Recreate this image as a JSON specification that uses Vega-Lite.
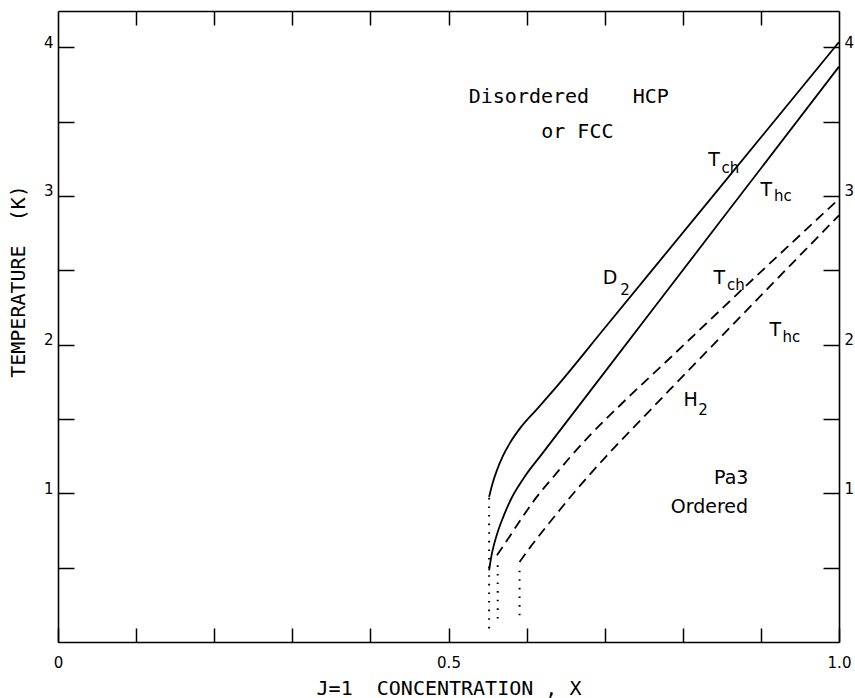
{
  "$schema": "https://vega.github.io/schema/vega-lite/v6.json",
  "width": 781,
  "height": 631,
  "autosize": "none",
  "padding": {"left": 58, "top": 11, "right": 16, "bottom": 56},
  "background": "white",
  "config": {
    "view": {"stroke": null},
    "font": "DejaVu Sans",
    "axis": {
      "domainColor": "black", "domainWidth": 1.6,
      "tickColor": "black", "tickWidth": 1.5,
      "labelColor": "black", "titleColor": "black",
      "labelFont": "DejaVu Sans", "titleFont": "DejaVu Sans Mono",
      "labelFontSize": 15, "titleFontSize": 20, "titleFontWeight": "normal",
      "grid": false
    }
  },
  "datasets": {
    "curves": [
      {"series": "D2_ch", "x": 0.552, "y": 0.976},
      {"series": "D2_ch", "x": 0.556, "y": 1.06},
      {"series": "D2_ch", "x": 0.562, "y": 1.155},
      {"series": "D2_ch", "x": 0.570, "y": 1.255},
      {"series": "D2_ch", "x": 0.580, "y": 1.35},
      {"series": "D2_ch", "x": 0.592, "y": 1.44},
      {"series": "D2_ch", "x": 0.613, "y": 1.565},
      {"series": "D2_ch", "x": 0.639, "y": 1.721},
      {"series": "D2_ch", "x": 0.700, "y": 2.112},
      {"series": "D2_ch", "x": 0.850, "y": 3.073},
      {"series": "D2_ch", "x": 1.0, "y": 4.035},
      {"series": "D2_hc", "x": 0.552, "y": 0.482},
      {"series": "D2_hc", "x": 0.555, "y": 0.58},
      {"series": "D2_hc", "x": 0.558, "y": 0.65},
      {"series": "D2_hc", "x": 0.563, "y": 0.74},
      {"series": "D2_hc", "x": 0.570, "y": 0.84},
      {"series": "D2_hc", "x": 0.580, "y": 0.96},
      {"series": "D2_hc", "x": 0.596, "y": 1.10},
      {"series": "D2_hc", "x": 0.620, "y": 1.267},
      {"series": "D2_hc", "x": 0.700, "y": 1.815},
      {"series": "D2_hc", "x": 0.850, "y": 2.843},
      {"series": "D2_hc", "x": 1.0, "y": 3.87},
      {"series": "H2_ch", "x": 0.562, "y": 0.584},
      {"series": "H2_ch", "x": 0.575, "y": 0.684},
      {"series": "H2_ch", "x": 0.592, "y": 0.819},
      {"series": "H2_ch", "x": 0.613, "y": 0.976},
      {"series": "H2_ch", "x": 0.635, "y": 1.115},
      {"series": "H2_ch", "x": 0.656, "y": 1.245},
      {"series": "H2_ch", "x": 0.681, "y": 1.39},
      {"series": "H2_ch", "x": 0.720, "y": 1.594},
      {"series": "H2_ch", "x": 0.784, "y": 1.912},
      {"series": "H2_ch", "x": 0.902, "y": 2.50},
      {"series": "H2_ch", "x": 1.0, "y": 2.98},
      {"series": "H2_hc", "x": 0.591, "y": 0.538},
      {"series": "H2_hc", "x": 0.605, "y": 0.64},
      {"series": "H2_hc", "x": 0.622, "y": 0.755},
      {"series": "H2_hc", "x": 0.639, "y": 0.866},
      {"series": "H2_hc", "x": 0.656, "y": 0.975},
      {"series": "H2_hc", "x": 0.677, "y": 1.103},
      {"series": "H2_hc", "x": 0.699, "y": 1.232},
      {"series": "H2_hc", "x": 0.720, "y": 1.35},
      {"series": "H2_hc", "x": 0.741, "y": 1.465},
      {"series": "H2_hc", "x": 0.784, "y": 1.70},
      {"series": "H2_hc", "x": 1.0, "y": 2.87}
    ],
    "dots": [
      {"series": "A", "x": 0.552, "y": 0.97},
      {"series": "A", "x": 0.552, "y": 0.06},
      {"series": "B", "x": 0.563, "y": 0.516},
      {"series": "B", "x": 0.563, "y": 0.146},
      {"series": "C", "x": 0.591, "y": 0.48},
      {"series": "C", "x": 0.591, "y": 0.17}
    ],
    "wideText": [
      {"x": 0.603, "y": 3.666, "text": "Disordered"},
      {"x": 0.759, "y": 3.666, "text": "HCP"},
      {"x": 0.665, "y": 3.432, "text": "or FCC"}
    ],
    "mainText": [
      {"x": 0.840, "y": 3.242, "text": "T"},
      {"x": 0.907, "y": 3.039, "text": "T"},
      {"x": 0.707, "y": 2.448, "text": "D"},
      {"x": 0.8467, "y": 2.448, "text": "T"},
      {"x": 0.9185, "y": 2.097, "text": "T"},
      {"x": 0.81, "y": 1.625, "text": "H"},
      {"x": 0.862, "y": 1.10, "text": "Pa3"},
      {"x": 0.834, "y": 0.906, "text": "Ordered"}
    ],
    "subText": [
      {"x": 0.861, "y": 3.190, "text": "ch"},
      {"x": 0.928, "y": 3.000, "text": "hc"},
      {"x": 0.726, "y": 2.37, "text": "2"},
      {"x": 0.868, "y": 2.40, "text": "ch"},
      {"x": 0.939, "y": 2.05, "text": "hc"},
      {"x": 0.826, "y": 1.56, "text": "2"}
    ]
  },
  "layer": [
    {
      "data": {"name": "curves"},
      "transform": [{"filter": "datum.series == 'D2_ch' || datum.series == 'D2_hc'"}],
      "mark": {"type": "line", "color": "black", "strokeWidth": 1.8, "interpolate": "monotone"},
      "encoding": {
        "x": {"field": "x", "type": "quantitative",
          "scale": {"domain": [0, 1], "nice": false, "zero": false},
          "axis": {"orient": "bottom", "values": [0, 0.1, 0.2, 0.3, 0.4, 0.5, 0.6, 0.7, 0.8, 0.9, 1.0],
            "tickSize": -14, "labelPadding": 27, "labelFontSize": 15, "labelFlush": false,
            "labelExpr": "datum.value == 0 ? '0' : (datum.value == 0.5 ? '0.5' : (datum.value == 1 ? '1.0' : ''))",
            "title": "J=1\u00a0\u00a0CONCENTRATION , X", "titleFontSize": 20, "titleY": 46, "titleBaseline": "middle"}},
        "y": {"field": "y", "type": "quantitative",
          "scale": {"domain": [0, 4.244], "nice": false, "zero": false},
          "axis": {"orient": "left", "values": [0.5, 1, 1.5, 2, 2.5, 3, 3.5, 4],
            "tickSize": -16, "labelPadding": 21, "labelFontSize": 15, "labelBaseline": "middle", "labelOffset": -5,
            "labelExpr": "datum.value % 1 == 0 ? format(datum.value, 'd') : ''",
            "title": "TEMPERATURE\u00a0\u00a0(K)", "titleFontSize": 20, "titleAngle": -90, "titleX": -40, "titleY": 270,
            "titleAlign": "center", "titleBaseline": "middle"}},
        "detail": {"field": "series"}
      }
    },
    {
      "data": {"name": "curves"},
      "transform": [{"filter": "datum.series == 'H2_ch' || datum.series == 'H2_hc'"}],
      "mark": {"type": "line", "color": "black", "strokeWidth": 1.8, "strokeDash": [10, 6], "interpolate": "monotone"},
      "encoding": {
        "x": {"field": "x", "type": "quantitative",
          "axis": {"orient": "top", "values": [0.1, 0.2, 0.3, 0.4, 0.5, 0.6, 0.7, 0.8, 0.9],
            "tickSize": -14, "labels": false, "title": null}},
        "y": {"field": "y", "type": "quantitative",
          "axis": {"orient": "right", "values": [0.5, 1, 1.5, 2, 2.5, 3, 3.5, 4],
            "tickSize": -16, "labelPadding": 21, "labelFontSize": 15, "labelBaseline": "middle", "labelOffset": -5,
            "labelExpr": "datum.value % 1 == 0 ? format(datum.value, 'd') : ''",
            "title": null}},
        "detail": {"field": "series"}
      }
    },
    {
      "data": {"name": "dots"},
      "mark": {"type": "line", "color": "black", "strokeWidth": 2, "strokeDash": [1.6, 7]},
      "encoding": {
        "x": {"field": "x", "type": "quantitative", "axis": null},
        "y": {"field": "y", "type": "quantitative", "axis": null},
        "detail": {"field": "series"},
        "order": {"field": "y", "sort": "descending"}
      }
    },
    {
      "data": {"name": "wideText"},
      "mark": {"type": "text", "color": "black", "fontSize": 20, "font": "DejaVu Sans Mono", "align": "center", "baseline": "middle"},
      "encoding": {
        "x": {"field": "x", "type": "quantitative", "axis": null},
        "y": {"field": "y", "type": "quantitative", "axis": null},
        "text": {"field": "text"}
      }
    },
    {
      "data": {"name": "mainText"},
      "mark": {"type": "text", "color": "black", "fontSize": 19, "font": "DejaVu Sans", "align": "center", "baseline": "middle"},
      "encoding": {
        "x": {"field": "x", "type": "quantitative", "axis": null},
        "y": {"field": "y", "type": "quantitative", "axis": null},
        "text": {"field": "text"}
      }
    },
    {
      "data": {"name": "subText"},
      "mark": {"type": "text", "color": "black", "fontSize": 15, "font": "DejaVu Sans", "align": "center", "baseline": "middle"},
      "encoding": {
        "x": {"field": "x", "type": "quantitative", "axis": null},
        "y": {"field": "y", "type": "quantitative", "axis": null},
        "text": {"field": "text"}
      }
    }
  ],
  "resolve": {"axis": {"x": "independent", "y": "independent"}}
}
